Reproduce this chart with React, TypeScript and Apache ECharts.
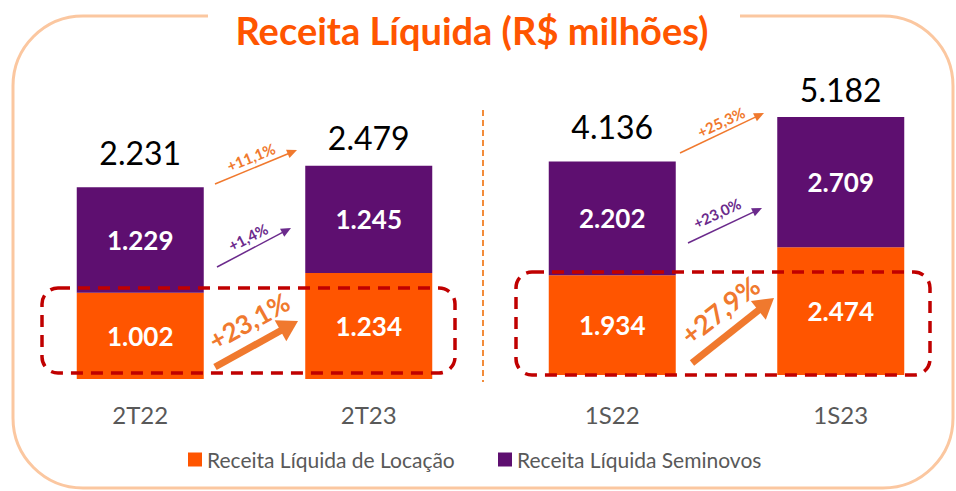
import React, { useEffect, useRef } from 'react';
import * as echarts from 'echarts';

// ---- Data ----
const leftCategories = ['2T22', '2T23'];
const rightCategories = ['1S22', '1S23'];
const locacaoLeft = [1002, 1234];
const seminovosLeft = [1229, 1245];
const totalLeft = [2231, 2479];
const locacaoRight = [1934, 2474];
const seminovosRight = [2202, 2709];
const totalRight = [4136, 5182];
const growthLeft = ['+11,1%', '+1,4%', '+23,1%'];
const growthRight = ['+25,3%', '+23,0%', '+27,9%'];
const seriesNames = ['Receita Líquida de Locação', 'Receita Líquida Seminovos'];
const titleText = 'Receita Líquida (R$ milhões)';

// ---- Styles ----
const ORANGE = '#FF5500';
const PURPLE = '#5E0F70';
const ARROW_ORANGE = '#F0792E';
const ARROW_PURPLE = '#6B2A8C';
const RED = '#C00000';
const BORDER = '#FBC7A0';
const GREY = '#595959';
const FONT = 'Lato, "Open Sans", sans-serif';
// label gaps above each total bar (style only)
const totalGapLeft = [19, 12];
const totalGapRight = [19, 12];

function fmt(v: number): string {
  return String(Math.round(v)).replace(/\B(?=(\d{3})+(?!\d))/g, '.');
}

function arrow(x1: number, y1: number, x2: number, y2: number, color: string, w: number, headLen: number, headW: number) {
  const dx = x2 - x1;
  const dy = y2 - y1;
  const len = Math.hypot(dx, dy);
  const ux = dx / len;
  const uy = dy / len;
  const nx = -uy;
  const ny = ux;
  const bx = x2 - ux * headLen;
  const by = y2 - uy * headLen;
  return [
    {
      type: 'line',
      shape: { x1, y1, x2: bx + ux, y2: by + uy },
      style: { stroke: color, lineWidth: w },
      z: 100,
    },
    {
      type: 'polygon',
      shape: {
        points: [
          [x2, y2],
          [bx + (nx * headW) / 2, by + (ny * headW) / 2],
          [bx - (nx * headW) / 2, by - (ny * headW) / 2],
        ],
      },
      style: { fill: color },
      z: 100,
    },
  ];
}

function pct(text: string, x: number, y: number, deg: number, size: number, color: string) {
  return {
    type: 'text',
    x,
    y,
    rotation: (deg * Math.PI) / 180,
    style: {
      text,
      fill: color,
      fontSize: size,
      fontWeight: 'bold',
      fontFamily: FONT,
      align: 'center',
      verticalAlign: 'middle',
    },
    z: 100,
  };
}

const insideLabel = {
  show: true,
  position: 'inside',
  color: '#FFFFFF',
  fontSize: 26,
  fontWeight: 'bold',
  fontFamily: FONT,
  formatter: (p: any) => fmt(p.value),
};

const totalLabel = {
  show: true,
  position: 'top',
  distance: 12,
  color: '#000000',
  fontSize: 32,
  fontFamily: FONT,
  formatter: (p: any) => fmt(p.value),
};

export default function App() {
  const ref = useRef<HTMLDivElement>(null);

  useEffect(() => {
    if (!ref.current) return;
    const chart = echarts.init(ref.current, undefined, { renderer: 'svg' });

    const barCommon = { type: 'bar', barWidth: 127, barGap: '-100%' };

    const graphics: any[] = [
      {
        type: 'rect',
        shape: { x: 13, y: 16, width: 940, height: 472, r: 70 },
        style: { fill: 'none', stroke: BORDER, lineWidth: 3 },
        z: 0,
      },
      {
        type: 'rect',
        shape: { x: 208, y: 4, width: 532, height: 24 },
        style: { fill: '#FFFFFF' },
        z: 1,
      },
      {
        type: 'text',
        x: 472,
        y: 30,
        style: {
          text: titleText,
          fill: ORANGE,
          fontSize: 38,
          fontWeight: 'bold',
          fontFamily: FONT,
          align: 'center',
          verticalAlign: 'middle',
        },
        z: 2,
      },
      {
        type: 'line',
        shape: { x1: 483, y1: 110, x2: 483, y2: 382 },
        style: { stroke: '#F28C3A', lineWidth: 2, lineDash: [6, 4] },
        z: 2,
      },
      {
        type: 'rect',
        shape: { x: 42, y: 288, width: 413, height: 85, r: 16 },
        style: { fill: 'none', stroke: RED, lineWidth: 3.5, lineDash: [12, 8] },
        z: 100,
      },
      {
        type: 'rect',
        shape: { x: 516, y: 272, width: 414, height: 103, r: 16 },
        style: { fill: 'none', stroke: RED, lineWidth: 3.5, lineDash: [12, 8] },
        z: 100,
      },
      ...arrow(215, 184, 297, 150, ARROW_ORANGE, 1.5, 10, 9),
      pct(growthLeft[0], 251, 157, 22, 15, ARROW_ORANGE),
      ...arrow(217, 267, 291, 228, ARROW_PURPLE, 1.5, 10, 9),
      pct(growthLeft[1], 248, 237, 27, 15, ARROW_PURPLE),
      ...arrow(215, 367, 298, 321, ARROW_ORANGE, 7, 20, 24),
      pct(growthLeft[2], 249, 321, 29, 26, ARROW_ORANGE),
      ...arrow(680, 153, 764, 113, ARROW_ORANGE, 1.5, 10, 9),
      pct(growthRight[0], 721, 122, 25, 15, ARROW_ORANGE),
      ...arrow(688, 243, 762, 208, ARROW_PURPLE, 1.5, 10, 9),
      pct(growthRight[1], 717, 213, 25, 15, ARROW_PURPLE),
      ...arrow(692, 363, 774, 298, ARROW_ORANGE, 7, 20, 24),
      pct(growthRight[2], 720, 310, 38, 27, ARROW_ORANGE),
    ];

    const axisLabel = (margin: number) => ({
      color: GREY,
      fontSize: 24,
      fontFamily: FONT,
      margin,
    });

    const legendCommon = {
      itemWidth: 14,
      itemHeight: 14,
      icon: 'rect',
      padding: 0,
      top: 449,
      textStyle: { color: GREY, fontSize: 21, fontFamily: FONT },
      selectedMode: false,
    };

    const totalData = (vals: number[], gaps: number[]) =>
      vals.map((v, i) => ({ value: v, label: { distance: gaps[i] } }));

    chart.setOption({
      animation: false,
      backgroundColor: '#FFFFFF',
      textStyle: { fontFamily: FONT },
      grid: [
        { left: 26, top: 164, width: 457, height: 215 },
        { left: 498, top: 117, width: 457, height: 258 },
      ],
      xAxis: [
        {
          type: 'category',
          gridIndex: 0,
          data: leftCategories,
          axisLine: { show: false },
          axisTick: { show: false },
          axisLabel: axisLabel(23),
        },
        {
          type: 'category',
          gridIndex: 1,
          data: rightCategories,
          axisLine: { show: false },
          axisTick: { show: false },
          axisLabel: axisLabel(27),
        },
      ],
      yAxis: [
        { type: 'value', gridIndex: 0, min: 0, max: 2500, show: false, splitLine: { show: false } },
        { type: 'value', gridIndex: 1, min: 0, max: 5000, show: false, splitLine: { show: false } },
      ],
      legend: [
        { ...legendCommon, left: 188, data: [seriesNames[0]] },
        { ...legendCommon, left: 498, data: [seriesNames[1]] },
      ],
      series: [
        {
          ...barCommon,
          name: seriesNames[0],
          xAxisIndex: 0,
          yAxisIndex: 0,
          stack: 'left',
          data: locacaoLeft,
          itemStyle: { color: ORANGE },
          label: insideLabel,
        },
        {
          ...barCommon,
          name: seriesNames[1],
          xAxisIndex: 0,
          yAxisIndex: 0,
          stack: 'left',
          data: seminovosLeft,
          itemStyle: { color: PURPLE },
          label: insideLabel,
        },
        {
          ...barCommon,
          name: 'Total',
          xAxisIndex: 0,
          yAxisIndex: 0,
          data: totalData(totalLeft, totalGapLeft),
          itemStyle: { color: 'rgba(0,0,0,0)' },
          label: totalLabel,
          silent: true,
        },
        {
          ...barCommon,
          name: seriesNames[0],
          xAxisIndex: 1,
          yAxisIndex: 1,
          stack: 'right',
          data: locacaoRight,
          itemStyle: { color: ORANGE },
          label: insideLabel,
        },
        {
          ...barCommon,
          name: seriesNames[1],
          xAxisIndex: 1,
          yAxisIndex: 1,
          stack: 'right',
          data: seminovosRight,
          itemStyle: { color: PURPLE },
          label: insideLabel,
        },
        {
          ...barCommon,
          name: 'Total',
          xAxisIndex: 1,
          yAxisIndex: 1,
          data: totalData(totalRight, totalGapRight),
          itemStyle: { color: 'rgba(0,0,0,0)' },
          label: totalLabel,
          silent: true,
        },
      ],
      graphic: { elements: graphics },
    });

    return () => chart.dispose();
  }, []);

  return (
    <div
      ref={ref}
      style={{ position: 'absolute', left: 0, top: 0, width: 956, height: 491, background: '#FFFFFF' }}
    />
  );
}
